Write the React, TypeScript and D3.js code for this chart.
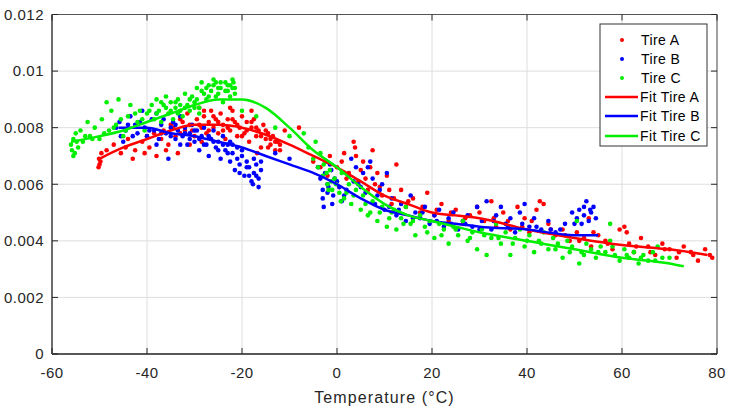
import React from "react";
import * as d3 from "d3";

const xTicks = [-60, -40, -20, 0, 20, 40, 60, 80];
const yTicks = [0, 0.002, 0.004, 0.006, 0.008, 0.01, 0.012];
const yTickLabels = ["0", "0.002", "0.004", "0.006", "0.008", "0.01", "0.012"];
const xLabel = "Temperature (°C)";
const seriesNames = ["Tire A", "Tire B", "Tire C"];
const fitNames = ["Fit Tire A", "Fit Tire B", "Fit Tire C"];

const tireA: [number, number][] = [
  [-50.2,0.0066],[-50.0,0.0067],[-49.8,0.0068],[-50.1,0.0069],[-49.6,0.0071],[-48.5,0.0072],[-47.0,0.0074],[-45.5,0.0071],
  [-44.0,0.0076],[-43.0,0.0069],[-42.5,0.0072],[-41.0,0.0075],[-40.0,0.0077],[-39.5,0.0073],[-38.5,0.0078],[-38.0,0.0070],
  [-37.0,0.0076],[-36.5,0.0079],[-35.5,0.0074],[-35.0,0.0081],[-34.0,0.0077],[-33.5,0.0071],[-33.0,0.0083],[-32.0,0.0079],
  [-31.5,0.0085],[-31.0,0.0081],[-30.0,0.0077],[-29.5,0.0083],[-29.0,0.0087],[-28.5,0.0080],[-28.0,0.0084],[-27.5,0.0078],
  [-27.0,0.0082],[-26.5,0.0086],[-26.0,0.0080],[-25.5,0.0083],[-25.0,0.0078],[-24.5,0.0085],[-24.0,0.0081],[-23.5,0.0076],
  [-23.0,0.0083],[-22.5,0.0079],[-22.0,0.0086],[-21.5,0.0082],[-21.0,0.0077],[-20.5,0.0080],[-20.0,0.0084],[-19.5,0.0078],
  [-19.0,0.0082],[-18.5,0.0075],[-18.0,0.0080],[-17.5,0.0083],[-17.0,0.0077],[-16.8,0.0071],[-16.5,0.0079],[-16.0,0.0073],
  [-15.5,0.0081],[-15.0,0.0076],[-14.5,0.0078],[-14.5,0.0073],[-14.0,0.0074],[-13.5,0.0077],[-13.0,0.0072],[-12.5,0.0075],
  [-11.0,0.0079],[-8.0,0.0080],[-5.0,0.0068],[-3.5,0.0066],[-2.0,0.0063],[-1.5,0.0070],[0.0,0.0066],[0.5,0.0059],
  [1.5,0.0071],[2.5,0.0064],[3.5,0.0075],[3.8,0.0073],[4.5,0.0061],[5.5,0.0068],[6.5,0.0058],[7.5,0.0072],[8.5,0.0064],
  [9.5,0.0056],[10.5,0.0063],[11.5,0.0053],[12.5,0.0067],[13.5,0.0058],[14.5,0.0052],[16.0,0.0055],[17.5,0.0050],
  [19.0,0.0057],[20.5,0.0049],[22.0,0.0053],[23.5,0.0047],[25.0,0.0051],[26.5,0.0046],[28.0,0.0049],[29.5,0.0052],
  [31.0,0.0047],[32.5,0.0054],[33.5,0.0045],[35.0,0.0050],[36.5,0.0044],[38.0,0.0052],[39.5,0.0048],[40.5,0.0043],
  [42.0,0.0051],[42.7,0.0054],[43.5,0.0053],[44.5,0.0046],[46.0,0.0042],[47.5,0.0044],[49.0,0.0040],[50.5,0.0043],
  [52.0,0.0041],[53.0,0.0048],[53.5,0.0038],[55.0,0.0042],[56.5,0.0040],[58.0,0.0037],[59.5,0.0044],[60.5,0.0045],
  [61.0,0.0043],[61.5,0.0039],[62.5,0.0036],[64.0,0.0041],[65.5,0.0038],[67.0,0.0035],[68.5,0.0039],[70.0,0.0037],
  [71.5,0.0034],[73.0,0.0038],[74.5,0.0036],[76.0,0.0033],[77.5,0.0037],[78.5,0.0035],
  [-34.5,0.0080],[-33.0,0.0078],[-32.5,0.0082],[-30.5,0.0079],[-29.0,0.0081],[-28.0,0.0086],[-27.0,0.0079],[-26.0,0.0084],
  [-25.0,0.0082],[-24.0,0.0079],[-23.0,0.0080],[-22.0,0.0083],[-21.0,0.0081],[-20.0,0.0077],[-19.0,0.0079],[-18.0,0.0082],
  [-17.0,0.0080],[-16.0,0.0077],[-15.0,0.0079],[-14.0,0.0076],[-13.0,0.0075],[-12.0,0.0072],[-12.0,0.0074],[-18.0,0.0086],
  [-22.5,0.0087],[-28.5,0.0075],[-31.0,0.0074],[-36.0,0.0072],[-40.5,0.0071],[-44.5,0.0073],[1.0,0.0068],[2.0,0.0062],
  [4.0,0.0070],[5.0,0.0065],[6.0,0.0062],[7.0,0.0066],[8.0,0.0060],[9.0,0.0059],[11.0,0.0058],[12.0,0.0055],[15.0,0.0054],
  [18.0,0.0052],[21.0,0.0051],[24.0,0.0050],[27.0,0.0048],[30.0,0.0050],[33.0,0.0048],[36.0,0.0047],[39.0,0.0045],
  [41.0,0.0047],[45.0,0.0044],[48.0,0.0042],[51.0,0.0040],[54.0,0.0043],[57.0,0.0039],[63.0,0.0038],[66.0,0.0036],
  [69.0,0.0037],[72.0,0.0036],[75.0,0.0035],[79.0,0.0034]
];

const tireB: [number, number][] = [
  [-46.5,0.0080],[-45.8,0.0082],[-45.5,0.0077],[-45.0,0.0075],[-44.5,0.0079],[-43.5,0.0084],[-42.5,0.0081],[-42.0,0.0078],
  [-41.0,0.0086],[-40.5,0.0080],[-40.0,0.0077],[-39.0,0.0083],[-38.5,0.0079],[-38.0,0.0085],[-37.5,0.0076],[-37.0,0.0081],
  [-36.5,0.0083],[-36.0,0.0078],[-35.5,0.0069],[-35.0,0.0080],[-34.5,0.0082],[-34.0,0.0076],[-33.5,0.0079],[-33.0,0.0084],
  [-32.5,0.0077],[-32.0,0.0080],[-31.5,0.0074],[-31.0,0.0078],[-30.5,0.0081],[-30.0,0.0075],[-29.5,0.0079],[-29.0,0.0072],
  [-28.5,0.0077],[-28.0,0.0080],[-27.5,0.0074],[-27.0,0.0070],[-26.5,0.0076],[-26.0,0.0079],[-25.5,0.0073],[-25.0,0.0075],
  [-24.5,0.0069],[-24.0,0.0077],[-23.5,0.0072],[-23.0,0.0074],[-22.5,0.0068],[-22.0,0.0071],[-21.5,0.0065],[-21.0,0.0073],
  [-20.5,0.0067],[-20.0,0.0070],[-19.5,0.0063],[-19.0,0.0068],[-18.5,0.0066],[-18.0,0.0061],[-17.7,0.0060],[-17.5,0.0064],
  [-17.0,0.0067],[-16.5,0.0062],[-16.0,0.0065],[-13.0,0.0071],[-10.0,0.0069],[-4.0,0.0066],[-3.5,0.0062],[-3.0,0.0058],
  [-3.0,0.0055],[-2.5,0.0064],[-2.0,0.0060],[-2.0,0.0057],[-1.5,0.0067],[-1.0,0.0053],[-0.5,0.0062],[0.5,0.0059],
  [1.5,0.0056],[2.5,0.0063],[3.0,0.0069],[4.0,0.0066],[4.5,0.0060],[5.5,0.0064],[6.0,0.0057],[7.0,0.0068],[7.5,0.0062],
  [8.0,0.0053],[9.0,0.0058],[10.0,0.0051],[10.5,0.0064],[11.5,0.0055],[12.5,0.0049],[13.5,0.0053],[14.5,0.0047],
  [15.5,0.0056],[16.5,0.0050],[17.5,0.0048],[18.5,0.0052],[19.5,0.0046],[20.5,0.0049],[21.5,0.0051],[22.5,0.0045],
  [23.5,0.0048],[24.5,0.0050],[25.5,0.0044],[26.5,0.0047],[27.5,0.0049],[28.5,0.0045],[29.5,0.0052],[30.5,0.0047],
  [31.5,0.0054],[32.5,0.0044],[33.5,0.0049],[34.5,0.0052],[35.5,0.0046],[36.5,0.0048],[37.5,0.0043],[38.5,0.0050],
  [39.5,0.0053],[40.5,0.0045],[41.5,0.0048],[43.0,0.0044],[44.5,0.0047],[46.0,0.0043],[48.0,0.0046],[49.5,0.0050],
  [50.5,0.0048],[51.0,0.0051],[51.5,0.0046],[52.0,0.0049],[52.5,0.0054],[53.0,0.0047],[53.5,0.0050],[54.0,0.0052],
  [54.5,0.0048],
  [-44.0,0.0081],[-43.0,0.0077],[-41.5,0.0082],[-39.5,0.0079],[-37.0,0.0078],[-35.0,0.0077],[-34.0,0.0081],[-32.0,0.0078],
  [-31.0,0.0076],[-30.0,0.0079],[-29.0,0.0076],[-28.0,0.0074],[-27.0,0.0077],[-26.0,0.0075],[-25.0,0.0072],[-24.0,0.0074],
  [-23.0,0.0071],[-22.0,0.0074],[-21.0,0.0069],[-20.0,0.0072],[-19.0,0.0066],[-18.5,0.0063],[-17.5,0.0069],[-17.0,0.0063],
  [-16.5,0.0059],[-16.0,0.0068],[-20.5,0.0064],[-22.5,0.0075],[-33.0,0.0074],[-38.0,0.0074],[-2.8,0.0052],[-2.2,0.0068],
  [-1.8,0.0059],[-1.2,0.0065],[-0.8,0.0056],[0.0,0.0061],[1.0,0.0054],[2.0,0.0058],[3.5,0.0061],[5.0,0.0059],[6.5,0.0066],
  [8.5,0.0056],[9.5,0.0060],[11.0,0.0052],[13.0,0.0051],[16.0,0.0048],[18.0,0.0050],[21.0,0.0047],[24.0,0.0046],
  [27.0,0.0046],[30.0,0.0044],[33.0,0.0047],[36.0,0.0045],[39.0,0.0046],[42.0,0.0045],[45.0,0.0044],[47.0,0.0044],
  [50.0,0.0046],[52.0,0.0052],[53.3,0.0051]
];

const tireC: [number, number][] = [
  [-56.0,0.0074],[-55.8,0.0072],[-55.5,0.0076],[-55.2,0.0071],[-55.0,0.0078],[-54.5,0.0073],[-54.0,0.0079],[-53.5,0.0075],
  [-52.5,0.0082],[-52.0,0.0077],[-51.0,0.0080],[-50.0,0.0076],[-49.5,0.0083],[-48.5,0.0089],[-48.0,0.0079],[-47.5,0.0086],
  [-46.5,0.0081],[-46.0,0.0090],[-45.0,0.0077],[-44.0,0.0084],[-43.5,0.0088],[-42.0,0.0082],[-41.5,0.0086],[-40.5,0.0079],
  [-40.0,0.0085],[-39.0,0.0088],[-38.5,0.0083],[-38.0,0.0090],[-37.5,0.0086],[-37.0,0.0082],[-36.5,0.0088],[-36.0,0.0091],
  [-35.5,0.0085],[-35.0,0.0089],[-34.5,0.0083],[-34.0,0.0087],[-33.5,0.0090],[-33.0,0.0086],[-32.5,0.0084],[-32.0,0.0092],
  [-31.5,0.0088],[-31.0,0.0086],[-30.5,0.0091],[-30.0,0.0089],[-29.5,0.0094],[-29.0,0.0087],[-28.5,0.0096],[-28.0,0.0092],
  [-27.5,0.0090],[-27.0,0.0095],[-26.5,0.0093],[-26.0,0.0097],[-25.5,0.0091],[-25.0,0.0094],[-24.5,0.0096],[-24.0,0.0089],
  [-23.5,0.0093],[-23.0,0.0095],[-22.5,0.0091],[-22.0,0.0097],[-21.5,0.0094],[-21.5,0.0092],[-20.0,0.0086],[-17.0,0.0084],
  [-13.0,0.0080],[-10.0,0.0077],[-7.0,0.0078],[-6.0,0.0073],[-5.0,0.0069],[-4.5,0.0075],[-4.0,0.0066],[-3.5,0.0071],
  [-3.0,0.0063],[-2.5,0.0068],[-2.0,0.0060],[-1.5,0.0065],[-1.0,0.0058],[-0.5,0.0062],[0.5,0.0057],[1.0,0.0064],
  [1.5,0.0055],[2.5,0.0060],[3.0,0.0053],[4.0,0.0058],[5.0,0.0051],[5.5,0.0056],[6.5,0.0049],[7.5,0.0054],[8.5,0.0047],
  [9.5,0.0052],[10.5,0.0045],[11.5,0.0050],[12.5,0.0044],[13.5,0.0048],[14.5,0.0052],[15.5,0.0046],[16.5,0.0042],
  [17.5,0.0049],[18.5,0.0045],[19.5,0.0047],[20.5,0.0041],[21.5,0.0046],[22.5,0.0044],[23.5,0.0039],[24.5,0.0045],
  [25.5,0.0042],[26.5,0.0047],[27.5,0.0040],[28.5,0.0043],[29.5,0.0037],[30.5,0.0044],[31.5,0.0035],[32.5,0.0041],
  [33.5,0.0046],[34.5,0.0039],[35.5,0.0043],[36.5,0.0035],[37.5,0.0041],[38.5,0.0044],[39.5,0.0038],[40.5,0.0042],
  [41.5,0.0036],[42.5,0.0040],[43.5,0.0043],[44.5,0.0037],[45.5,0.0041],[46.5,0.0039],[47.5,0.0034],[48.5,0.0040],
  [49.5,0.0038],[50.5,0.0047],[51.0,0.0032],[51.5,0.0036],[52.5,0.0039],[53.5,0.0037],[54.5,0.0034],[55.5,0.0038],
  [56.5,0.0036],[57.5,0.0046],[57.5,0.0040],[58.5,0.0035],[59.5,0.0033],[60.5,0.0037],[61.5,0.0034],[62.5,0.0036],
  [63.5,0.0032],[64.5,0.0035],[65.5,0.0033],[66.5,0.0036],[67.5,0.0038],[68.5,0.0034],
  [-55.5,0.0070],[-54.8,0.0075],[-53.0,0.0077],[-51.5,0.0076],[-49.0,0.0078],[-47.0,0.0080],[-45.5,0.0083],[-44.5,0.0079],
  [-42.5,0.0085],[-41.0,0.0083],[-39.5,0.0086],[-38.0,0.0085],[-37.0,0.0089],[-36.0,0.0087],[-35.0,0.0086],[-34.0,0.0089],
  [-33.0,0.0088],[-32.0,0.0087],[-31.0,0.0090],[-30.0,0.0087],[-29.5,0.0090],[-28.5,0.0093],[-27.5,0.0094],[-27.0,0.0091],
  [-26.0,0.0095],[-25.5,0.0096],[-25.0,0.0092],[-24.5,0.0094],[-23.5,0.0096],[-23.0,0.0093],[-22.5,0.0095],[-22.0,0.0094],
  [-21.8,0.0096],[-29.0,0.0085],[-33.5,0.0085],[-2.8,0.0067],[-2.2,0.0064],[-1.8,0.0058],[-1.2,0.0061],[-0.2,0.0060],
  [0.8,0.0054],[2.0,0.0057],[3.5,0.0056],[6.0,0.0053],[7.0,0.0050],[9.0,0.0050],[11.0,0.0048],[12.0,0.0051],[14.0,0.0046],
  [16.0,0.0047],[19.0,0.0043],[22.0,0.0042],[25.0,0.0044],[28.0,0.0041],[31.0,0.0042],[34.0,0.0041],[37.0,0.0039],
  [40.0,0.0040],[43.0,0.0039],[46.0,0.0037],[49.0,0.0036],[52.0,0.0035],[55.0,0.0036],[58.0,0.0038],[61.0,0.0035],
  [64.0,0.0034],[67.0,0.0033],[70.0,0.0034]
];

const fitA: [number, number][] = [
  [-50,0.0069],[-45,0.0073],[-40,0.0076],[-35,0.0079],[-30,0.0081],[-25,0.0081],[-20,0.0080],[-15,0.00775],[-10,0.0074],
  [-5,0.0070],[0,0.0066],[5,0.0061],[10,0.0056],[15,0.0053],[20,0.0050],[25,0.0049],[30,0.0048],[40,0.0044],[50,0.0041],
  [60,0.00385],[70,0.0037],[78,0.0035]
];
const fitB: [number, number][] = [
  [-46,0.0080],[-40,0.0080],[-35,0.0078],[-30,0.0077],[-25,0.0075],[-20,0.0073],[-15,0.0070],[-10,0.0067],[-5,0.0064],
  [0,0.0060],[5,0.0055],[10,0.0051],[15,0.0049],[20,0.0047],[25,0.0046],[30,0.0045],[40,0.0044],[50,0.0042],[55,0.0042]
];
const fitC: [number, number][] = [
  [-56,0.0075],[-50,0.0077],[-45,0.0079],[-40,0.0082],[-35,0.0085],[-30,0.0088],[-25,0.0090],[-20,0.0090],[-15,0.0087],
  [-10,0.0080],[-5,0.0072],[0,0.0066],[5,0.0059],[10,0.0053],[15,0.0049],[20,0.0047],[25,0.0045],[30,0.0043],[40,0.0040],
  [50,0.0037],[60,0.0034],[70,0.0032],[73,0.0031]
];

const colors = ["#ff0000", "#0000ff", "#00ee00"];

export default function App() {
  const W = 746, H = 414;
  const L = 52, R = 717, T = 14.5, B = 354;
  const x = d3.scaleLinear().domain([-60, 80]).range([L, R]);
  const y = d3.scaleLinear().domain([0, 0.012]).range([B, T]);
  const line = d3.line<[number, number]>().x(d => x(d[0])).y(d => y(d[1])).curve(d3.curveMonotoneX);
  const scatter = [tireA, tireB, tireC];
  const fits = [fitA, fitB, fitC];
  const font = "'Liberation Sans', Arial, Helvetica, sans-serif";
  const tickLen = 6;
  const legX = 600, legY = 24, legW = 107, legH = 122;
  const rowY = [40, 59, 78, 97, 116, 136];

  return (
    <svg width={W} height={H} style={{ position: "absolute", left: 0, top: 0, background: "#fff" }} fontFamily={font}>
      <rect x={0} y={0} width={W} height={H} fill="#fff" />
      {xTicks.map(t => (
        <line key={"gx" + t} x1={x(t)} x2={x(t)} y1={T} y2={B} stroke="#dedede" strokeWidth={1} />
      ))}
      {yTicks.map(t => (
        <line key={"gy" + t} x1={L} x2={R} y1={y(t)} y2={y(t)} stroke="#dedede" strokeWidth={1} />
      ))}
      {scatter.map((s, i) => (
        <g key={"s" + i} fill={colors[i]}>
          {s.map((d, j) => (
            <circle key={j} cx={x(d[0])} cy={y(d[1])} r={2.3} />
          ))}
        </g>
      ))}
      {fits.map((f, i) => (
        <path key={"f" + i} d={line(f) || ""} fill="none" stroke={colors[i]} strokeWidth={2.5} />
      ))}
      <line x1={L} x2={R} y1={T} y2={T} stroke="#555" strokeWidth={1} />
      <line x1={R} x2={R} y1={T} y2={B} stroke="#555" strokeWidth={1} />
      <line x1={L} x2={R} y1={B} y2={B} stroke="#262626" strokeWidth={1.3} />
      <line x1={L} x2={L} y1={T} y2={B} stroke="#262626" strokeWidth={1.3} />
      {xTicks.map(t => (
        <g key={"tx" + t}>
          <line x1={x(t)} x2={x(t)} y1={B} y2={B - tickLen} stroke="#262626" />
          <line x1={x(t)} x2={x(t)} y1={T} y2={T + tickLen} stroke="#262626" />
          <text x={x(t)} y={378} textAnchor="middle" fontSize={15} letterSpacing={0.5} fill="#262626">{String(t)}</text>
        </g>
      ))}
      {yTicks.map((t, i) => (
        <g key={"ty" + t}>
          <line x1={L} x2={L + tickLen} y1={y(t)} y2={y(t)} stroke="#262626" />
          <line x1={R} x2={R - tickLen} y1={y(t)} y2={y(t)} stroke="#262626" />
          <text x={44} y={y(t)} dy="0.35em" textAnchor="end" fontSize={15} letterSpacing={0.5} fill="#262626">{yTickLabels[i]}</text>
        </g>
      ))}
      <text x={(L + R) / 2} y={403} textAnchor="middle" fontSize={16} letterSpacing={1.1} fill="#262626">{xLabel}</text>
      <rect x={legX} y={legY} width={legW} height={legH} fill="#fff" stroke="#333" strokeWidth={1} />
      {seriesNames.map((n, i) => (
        <g key={"l" + i}>
          <circle cx={622} cy={rowY[i]} r={2} fill={colors[i]} />
          <text x={641} y={rowY[i]} dy="0.35em" fontSize={14} letterSpacing={0.4} fill="#000">{n}</text>
        </g>
      ))}
      {fitNames.map((n, i) => (
        <g key={"lf" + i}>
          <line x1={605} x2={638} y1={rowY[i + 3]} y2={rowY[i + 3]} stroke={colors[i]} strokeWidth={2.5} />
          <text x={640} y={rowY[i + 3]} dy="0.35em" fontSize={14} letterSpacing={0.4} fill="#000">{n}</text>
        </g>
      ))}
    </svg>
  );
}
